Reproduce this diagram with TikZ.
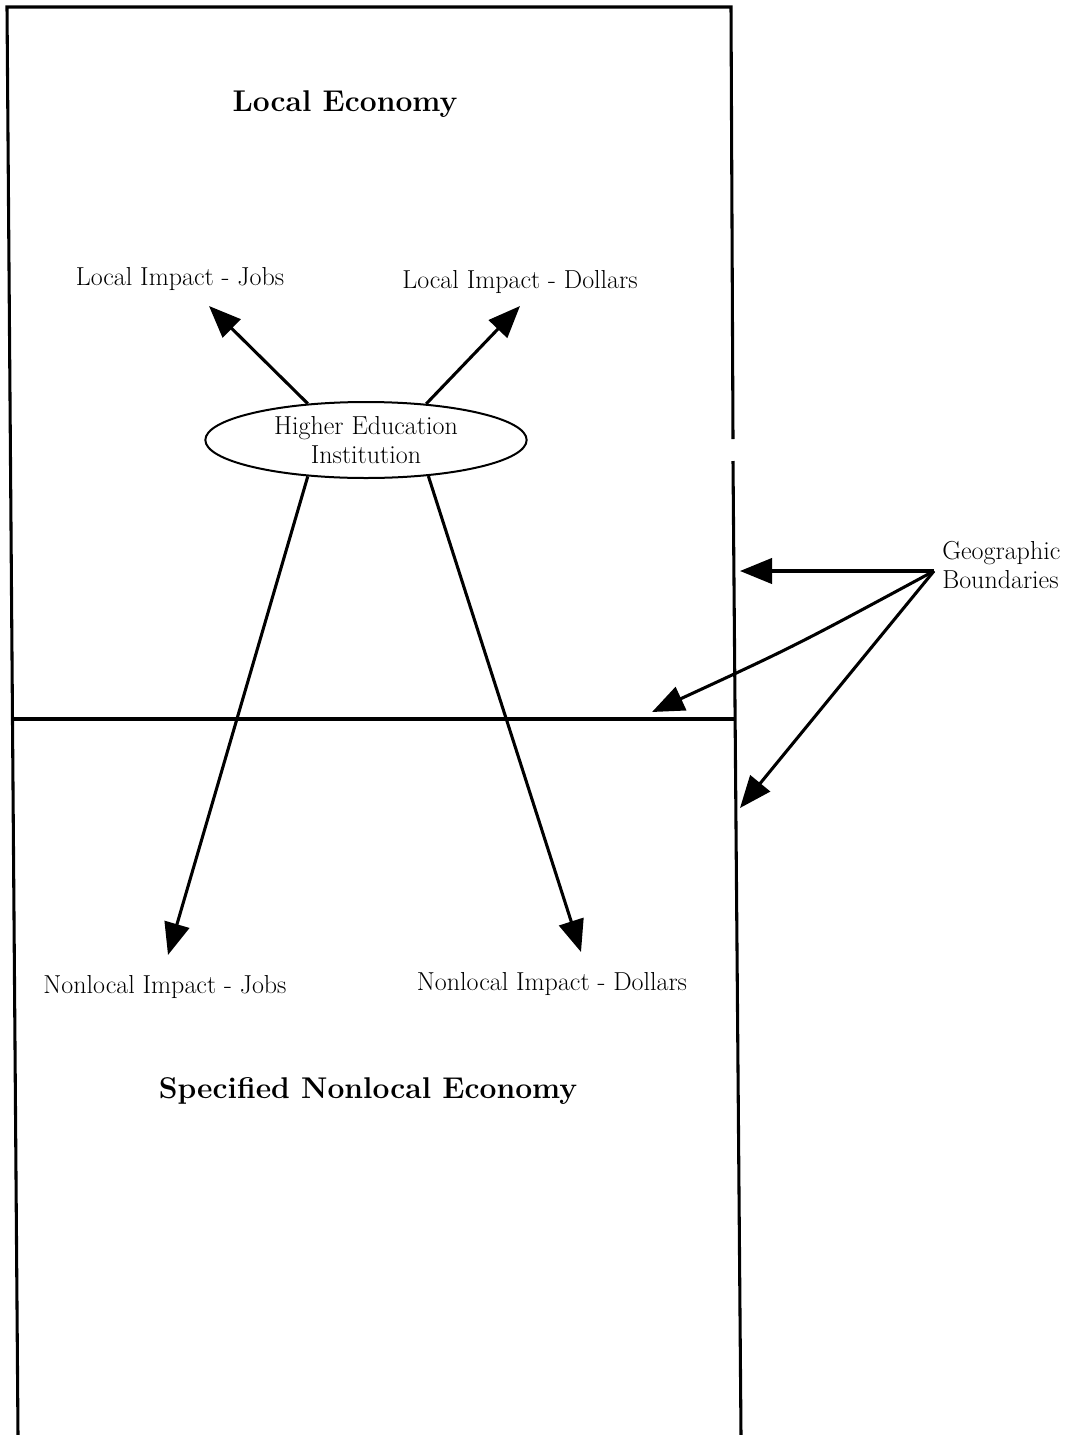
\documentclass[tikz,border=0pt]{standalone}
\usepackage{tikz}
\usetikzlibrary{arrows.meta, shapes.geometric}

\begin{document}
\begin{tikzpicture}[
        x=0.75pt, y=-0.75pt,
        font=\fontsize{19.5}{22}\selectfont,
        border/.style={line width=2.3pt},
        arr/.style={-{Triangle[length=24pt, width=19pt]}, line width=2.3pt},
        title/.style={font=\fontsize{22.5}{26}\selectfont\bfseries},
        lbl/.style={inner sep=0pt},
        inst/.style={draw, ellipse, line width=1.5pt, align=center, inner sep=0pt,
            minimum width=241pt, minimum height=57pt},
    ]
        \useasboundingbox (0,0) rectangle (1072,1435);

        % frame and the boundary between the two economies
        \draw[border] (18,1435) -- (7,7) -- (731,7) -- (733,439);
        \draw[border] (733,461) -- (741,1435);
        \draw[border] (12,719) -- (735,719);

        % titles
        \node[title] (local) at (345,104) {Local Economy};
        \node[title] (nonlocal) at (368,1091) {Specified Nonlocal Economy};

        % institution and its impacts
        \node[inst] (hei) at (366,440) {Higher Education\\Institution};
        \node[lbl] (ljobs) at (180,279) {Local Impact - Jobs};
        \node[lbl] (ldollars) at (520,282) {Local Impact - Dollars};
        \node[lbl] (njobs) at (165,987) {Nonlocal Impact - Jobs};
        \node[lbl] (ndollars) at (552,984) {Nonlocal Impact - Dollars};
        \coordinate (ljobsTip) at (209,306);
        \coordinate (ldollarsTip) at (520,306);
        \coordinate (njobsTip) at (168,955);
        \coordinate (ndollarsTip) at (581,952);
        \draw[arr] (hei.148) -- (ljobsTip);
        \draw[arr] (hei.31) -- (ldollarsTip);
        \draw[arr] (hei.212) -- (njobsTip);
        \draw[arr] (hei.330) -- (ndollarsTip);

        % geographic boundaries callout
        \node[lbl, anchor=west, align=left] (geo) at (942,565) {Geographic\\Boundaries};
        \coordinate (geoApex) at (934,571);
        \coordinate (geoTipA) at (740,571);
        \coordinate (geoTipB) at (652,712);
        \coordinate (geoTipC) at (740,808);
        \draw[arr] (geoApex) -- (geoTipA);
        \draw[arr] (geoApex) .. controls (795,646) .. (geoTipB);
        \draw[arr] (geoApex) -- (geoTipC);
    \end{tikzpicture}
\end{document}
